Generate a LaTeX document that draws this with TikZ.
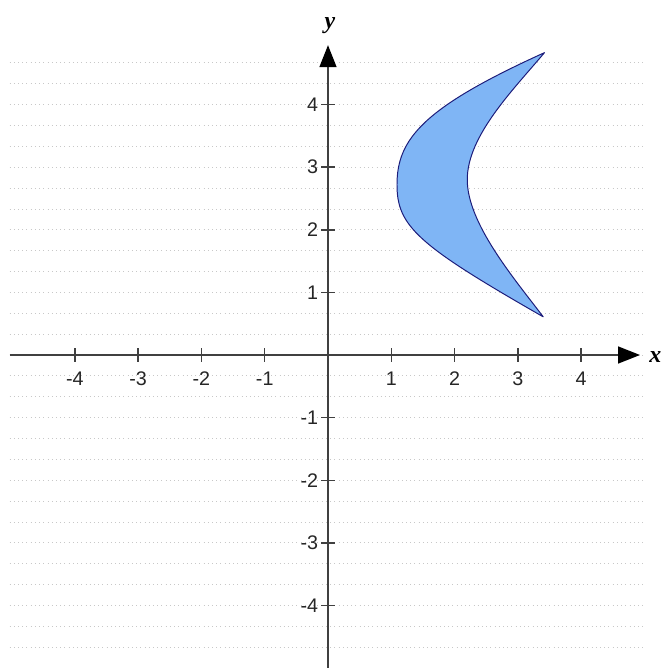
\documentclass[tikz,border=0pt]{standalone}
\usepackage{fontspec}
\setmainfont{Liberation Sans}
\newfontfamily\axisletter{Liberation Serif}
\usetikzlibrary{arrows.meta}
\definecolor{axisgray}{HTML}{404040}
\definecolor{crescfill}{HTML}{7FB5F5}
\definecolor{crescline}{HTML}{1C1C7A}
\definecolor{dotgray}{HTML}{C8C8C8}
\begin{document}
\begin{tikzpicture}[x=1.5825cm,y=1.565cm,
  gridline/.style={dotgray, line width=0.6pt, dash pattern=on 0.6pt off 2.4pt},
  axisline/.style={axisgray, line width=1.5pt, -{Triangle[length=0.55cm,width=0.42cm,black]}},
  tickline/.style={axisgray, line width=1pt},
  ticklab/.style={font=\fontsize{14}{16}\selectfont, text=black!85, inner sep=1pt},
  axlab/.style={font=\axisletter\bfseries\itshape\fontsize{17}{19}\selectfont, inner sep=0pt},
  crescent/.style={fill=crescfill, draw=crescline, line width=0.7pt, line join=round}]
\useasboundingbox (-5.1817,-5.0) rectangle (5.3239,5.6709);
\fill[white] (-5.1817,-5.0) rectangle (5.3239,5.6709);
% faint dotted background rows
\foreach \k in {-14,...,14}
  \draw[gridline] (-5.03,\k/3) -- (5.0,\k/3);
% crescent
\coordinate (tipb) at (3.40,0.61);
\coordinate (tipt) at (3.42,4.83);
\coordinate (outv) at (1.09,2.72);
\coordinate (inv) at (2.20,2.80);
\draw[crescent] (tipb)
  .. controls (1.41,1.76) and (1.09,2.06) .. (outv)
  .. controls (1.09,3.45) and (1.50,3.95) .. (tipt)
  .. controls (2.92,4.23) and (2.20,3.50) .. (inv)
  .. controls (2.20,2.10) and (2.95,1.21) .. (tipb) -- cycle;
% axes
\coordinate (xs) at (-5.03,0);
\coordinate (xe) at (4.93,0);
\coordinate (ys) at (0,-5.0);
\coordinate (ye) at (0,4.95);
\draw[axisline] (xs) -- (xe);
\draw[axisline] (ys) -- (ye);
% ticks
\foreach \i in {-4,-3,-2,-1,1,2,3,4} {
  \draw[tickline] (\i,0) ++(0,-0.11) coordinate (xt\i) -- ++(0,0.22);
  \node[ticklab] (xl\i) at (\i,-0.38) {\i};
  \draw[tickline] (0,\i) ++(-0.11,0) coordinate (yt\i) -- ++(0.22,0);
  \node[ticklab, anchor=east] (yl\i) at (-0.13,\i) {\i};
}
\node[axlab] (xlab) at (5.17,-0.03) {x};
\node[axlab] (ylab) at (0.03,5.27) {y};
\end{tikzpicture}
\end{document}
